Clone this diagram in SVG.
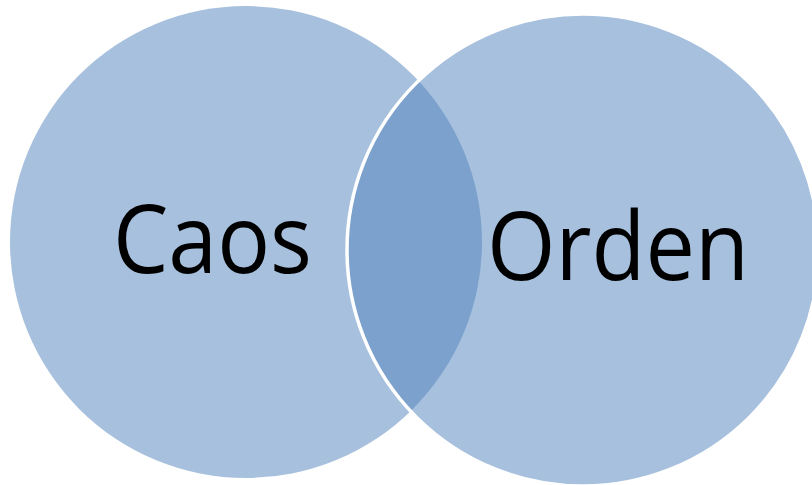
<svg xmlns="http://www.w3.org/2000/svg" width="812" height="485" viewBox="0 0 812 485">
  <style>
    .light { fill: #A7C0DE; }
    .dark { fill: #7CA1CD; }
    .edge { fill: none; stroke: #FFFFFF; stroke-width: 3.5; }
    .label { font-family: "Open Sans", "Noto Sans", sans-serif; font-size: 96px; fill: #000000; }
  </style>
  <defs>
    <clipPath id="clipLeft">
      <circle cx="246" cy="242" r="236"/>
    </clipPath>
  </defs>
  <rect width="812" height="485" fill="#FFFFFF"/>
  <g id="caos">
    <circle class="light" cx="246" cy="242" r="236"/>
  </g>
  <g id="orden">
    <circle class="light" cx="583" cy="250" r="236"/>
  </g>
  <g id="interseccion">
    <circle class="dark" cx="583" cy="250" r="236" clip-path="url(#clipLeft)"/>
    <circle class="edge" cx="583" cy="250" r="236"/>
  </g>
  <g id="labels">
    <text class="label" x="113" y="273" textLength="199" lengthAdjust="spacingAndGlyphs">Caos</text>
    <text class="label" x="487" y="280" textLength="262" lengthAdjust="spacingAndGlyphs">Orden</text>
  </g>
</svg>
